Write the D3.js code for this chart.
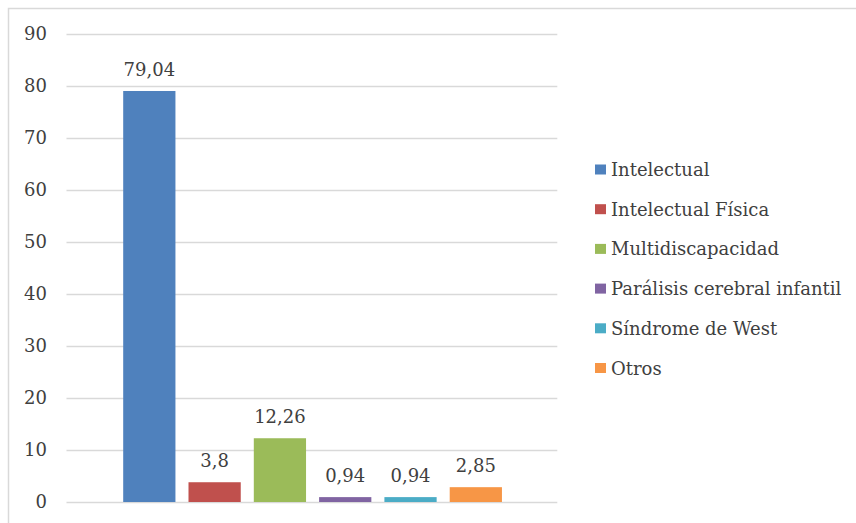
<!DOCTYPE html>
<html><head><meta charset="utf-8">
<script src="https://cdn.jsdelivr.net/npm/d3@7"></script>
<style>body{margin:0;background:#fff}svg{display:block}</style>
</head><body><svg id="c" width="856" height="523"></svg>
<script>
const series = ["Intelectual","Intelectual Física","Multidiscapacidad","Parálisis cerebral infantil","Síndrome de West","Otros"];
const values = [79.04, 3.8, 12.26, 0.94, 0.94, 2.85];
const labels = ["79,04","3,8","12,26","0,94","0,94","2,85"];
const colors = ["#4F81BD","#C0504D","#9BBB59","#8064A2","#4BACC6","#F79646"];
const yTicks = [0,10,20,30,40,50,60,70,80,90];

(function(){
const svg = d3.select("#c");
const font = "DejaVu Serif";
const txt = "#404040";
svg.append("rect").attr("x",8.5).attr("y",8.5).attr("width",900).attr("height",600)
  .attr("fill","none").attr("stroke","#d9d9d9").attr("stroke-width",1.5);

const pL=66.5, pR=557.3, pT=34, pB=502;
const y = d3.scaleLinear().domain([0,90]).range([pB,pT]);
const x = d3.scaleBand().domain(series).range([pL,pR]).paddingInner(0.2).paddingOuter(0.858).align(0.506);

svg.append("g").selectAll("line").data(yTicks).join("line")
  .attr("x1",pL).attr("x2",pR).attr("y1",d=>Math.round(y(d))+0.5).attr("y2",d=>Math.round(y(d))+0.5)
  .attr("stroke","#d9d9d9").attr("stroke-width",1.5);

const yAxis = d3.axisLeft(y).tickValues(yTicks).tickSize(0).tickPadding(0).tickFormat(d=>String(d));
const ag = svg.append("g").attr("transform","translate(47,0)").call(yAxis);
ag.select(".domain").remove();
ag.selectAll("text").attr("font-family",font).attr("font-size",18).attr("fill",txt);

svg.append("g").selectAll("rect").data(series).join("rect")
  .attr("x",d=>x(d)).attr("width",x.bandwidth())
  .attr("y",(d,i)=>y(values[i])).attr("height",(d,i)=>y(0)-y(values[i]))
  .attr("fill",(d,i)=>colors[i]);

svg.append("g").selectAll("text").data(series).join("text")
  .attr("x",d=>x(d)+x.bandwidth()/2).attr("y",(d,i)=>y(values[i])-15)
  .attr("text-anchor","middle").attr("font-family",font).attr("font-size",18).attr("fill",txt)
  .text((d,i)=>labels[i]);

const rows = svg.append("g").selectAll("g").data(series).join("g")
  .attr("transform",(d,i)=>`translate(595,${169.5+i*39.7})`);
rows.append("rect").attr("x",0).attr("y",-5).attr("width",11).attr("height",10).attr("fill",(d,i)=>colors[i]);
rows.append("text").attr("x",16).attr("y",6.5).attr("font-family",font).attr("font-size",18).attr("fill",txt)
  .attr("textLength",(d,i)=>null).text(d=>d);
})();
</script></body></html>
